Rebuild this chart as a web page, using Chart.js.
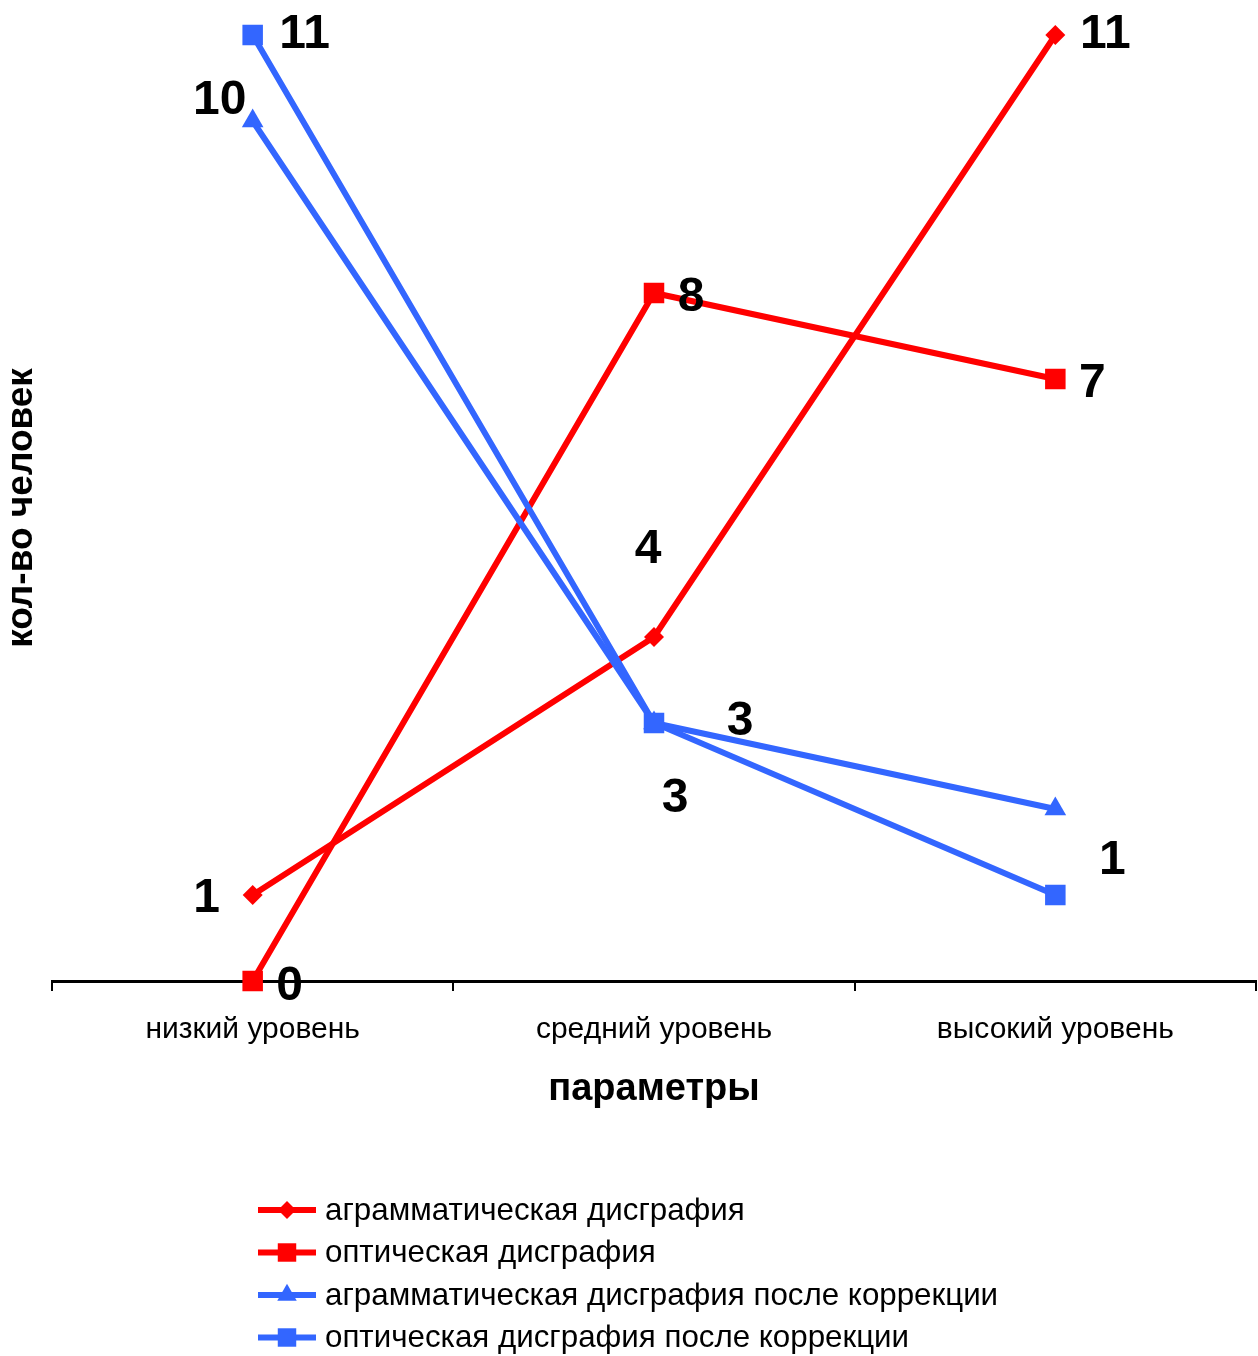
<!DOCTYPE html>
<html>
<head>
<meta charset="utf-8">
<script src="https://cdn.jsdelivr.net/npm/chart.js@4.4.1/dist/chart.umd.min.js"></script>
<style>
  html, body { margin: 0; padding: 0; background: #ffffff; }
  canvas { display: block; }
</style>
</head>
<body>
<canvas id="chart" width="1258" height="1356"></canvas>
<script>
// Categories and series values
const categories = ['низкий уровень', 'средний уровень', 'высокий уровень'];
const seriesNames = [
  'аграмматическая дисграфия',
  'оптическая дисграфия',
  'аграмматическая дисграфия после коррекции',
  'оптическая дисграфия после коррекции'
];
const agrammaticBefore = [1, 4, 11];
const opticalBefore = [0, 8, 7];
const agrammaticAfter = [10, 3, 2];
const opticalAfter = [11, 3, 1];
const yTicks = [0, 11];
const xAxisTitle = 'параметры';
const yAxisTitle = 'кол-во человек';

const RED = '#FF0000';
const BLUE = '#3366FF';
const FONT = '"Liberation Sans", Arial, Helvetica, sans-serif';

// Draw a marker shape centred on (x, y)
function drawMarker(ctx, style, x, y, r, color) {
  ctx.save();
  ctx.fillStyle = color;
  ctx.beginPath();
  if (style === 'rectRot') {
    ctx.moveTo(x - r, y); ctx.lineTo(x, y - r); ctx.lineTo(x + r, y); ctx.lineTo(x, y + r);
  } else if (style === 'rect') {
    const s = r * Math.SQRT1_2;
    ctx.rect(x - s, y - s, 2 * s, 2 * s);
  } else if (style === 'triangle') {
    ctx.moveTo(x, y - r);
    ctx.lineTo(x + r * Math.sin(2 * Math.PI / 3), y + r * 0.5);
    ctx.lineTo(x - r * Math.sin(2 * Math.PI / 3), y + r * 0.5);
  }
  ctx.closePath();
  ctx.fill();
  ctx.restore();
}

// Value labels next to the points, offset per point
const valueLabels = {
  id: 'valueLabels',
  afterDatasetsDraw(chart) {
    const ctx = chart.ctx;
    ctx.save();
    ctx.font = 'bold 48px ' + FONT;
    ctx.fillStyle = '#000000';
    ctx.textAlign = 'center';
    ctx.textBaseline = 'middle';
    chart.data.datasets.forEach((ds, di) => {
      const meta = chart.getDatasetMeta(di);
      meta.data.forEach((pt, i) => {
        const off = ds.labelOffsets && ds.labelOffsets[i];
        if (!off) return;
        ctx.fillText(String(ds.data[i]), pt.x + off[0], pt.y + off[1] + 3.5);
      });
    });
    ctx.restore();
  }
};

// Vertical legend below the axis title
const stackedLegend = {
  id: 'stackedLegend',
  afterDraw(chart) {
    const ctx = chart.ctx;
    const x0 = 258, x1 = 316, xm = 287, tx = 325;
    const rows = [1210, 1252.5, 1295, 1337.5];
    ctx.save();
    ctx.font = '31.3px ' + FONT;
    ctx.textAlign = 'left';
    ctx.textBaseline = 'middle';
    chart.data.datasets.forEach((ds, i) => {
      const y = rows[i];
      ctx.strokeStyle = ds.borderColor;
      ctx.lineWidth = 6;
      ctx.beginPath();
      ctx.moveTo(x0, y); ctx.lineTo(x1, y);
      ctx.stroke();
      drawMarker(ctx, ds.pointStyle, xm, y, ds.pointRadius * 0.9, ds.borderColor);
      ctx.fillStyle = '#000000';
      ctx.fillText(ds.label, tx, y + 1);
    });
    ctx.restore();
  }
};

function series(label, data, color, style, radius, offsets, order) {
  return {
    label, data, order,
    borderColor: color,
    backgroundColor: color,
    borderWidth: 6,
    pointStyle: style,
    pointRadius: radius,
    pointHoverRadius: radius,
    pointBackgroundColor: color,
    pointBorderWidth: 0,
    tension: 0,
    clip: false,
    labelOffsets: offsets
  };
}

new Chart(document.getElementById('chart'), {
  type: 'line',
  data: {
    labels: categories,
    datasets: [
      series(seriesNames[0], agrammaticBefore, RED, 'rectRot', 10,
        [[-46, 0], [-6, -91], [50, -3.5]], 4),
      series(seriesNames[1], opticalBefore, RED, 'rect', 14.5,
        [[37, 2], [37, 1], [37, 1]], 3),
      series(seriesNames[2], agrammaticAfter, BLUE, 'triangle', 12.5,
        [[-33, -24], [21, 72], null], 2),
      series(seriesNames[3], opticalAfter, BLUE, 'rect', 14.5,
        [[52, -3.5], [86, -5], [57, -38]], 1)
    ]
  },
  options: {
    responsive: false,
    animation: false,
    events: [],
    layout: { autoPadding: false, padding: { top: 35, right: 2, bottom: 247, left: 0 } },
    plugins: {
      legend: { display: false },
      tooltip: { enabled: false },
      title: { display: false }
    },
    scales: {
      x: {
        type: 'category',
        offset: true,
        grid: {
          display: true,
          offset: true,
          drawOnChartArea: false,
          drawTicks: true,
          tickLength: 10,
          color: '#000000',
          lineWidth: 2
        },
        border: { display: true, color: '#000000', width: 3 },
        ticks: {
          color: '#000000',
          font: { family: FONT, size: 30 },
          padding: 21,
          maxRotation: 0,
          autoSkip: false
        },
        title: {
          display: true,
          text: xAxisTitle,
          color: '#000000',
          font: { family: FONT, size: 38, weight: 'bold', lineHeight: 1 },
          padding: { top: 2, bottom: 0 }
        }
      },
      y: {
        min: yTicks[0],
        max: yTicks[1],
        grid: { display: false, drawTicks: false },
        border: { display: false },
        ticks: { display: false },
        title: {
          display: true,
          text: yAxisTitle,
          color: '#000000',
          font: { family: FONT, size: 37, weight: 'bold', lineHeight: 1 },
          padding: { top: 3, bottom: 12 }
        }
      }
    }
  },
  plugins: [valueLabels, stackedLegend]
});
</script>
</body>
</html>
